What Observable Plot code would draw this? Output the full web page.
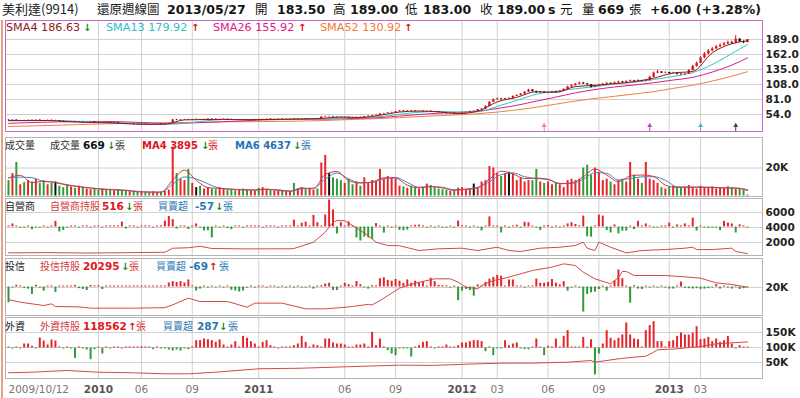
<!DOCTYPE html>
<html><head><meta charset="utf-8">
<script src="https://cdn.jsdelivr.net/npm/d3@7"></script>
<script src="https://cdn.jsdelivr.net/npm/@observablehq/plot@0.6"></script>
<style>
html,body{margin:0;padding:0;background:#fff}
#root{position:relative;width:800px;height:398px;overflow:hidden;font-family:"DejaVu Sans",sans-serif}
.lay{position:absolute;left:0}
.tx{position:absolute;white-space:nowrap;line-height:1;transform:translateY(-50%)}
</style></head><body><div id="root"></div>
<script>
// ---------- data (weekly, 2009/10/12 .. 2013/05/27) ----------
const closeBefore = 44.0;
const close = [43.0,43.8,42.6,43.2,42.8,43.6,43.0,43.8,43.0,42.6,43.4,43.0,43.0,41.8,
40.5,39.8,40.2,39.6,40.0,39.2,39.8,40.4,39.6,39.0,39.4,38.8,38.2,38.6,37.8,
37.0,36.4,36.8,36.2,35.8,36.4,36.0,35.6,36.2,36.6,36.0,36.8,37.6,
44.2,43.6,44.4,45.0,44.2,45.0,45.0,
44.6,45.2,45.8,45.4,44.8,45.0,45.6,45.2,44.6,44.2,44.8,44.4,44.0,44.6,45.0,44.8,45.2,45.6,45.0,45.4,45.8,45.2,45.6,46.0,45.4,45.8,46.2,45.6,46.0,46.4,46.0,
49.5,50.2,50.2,49.6,49.2,48.8,49.0,48.6,48.4,48.8,48.2,50.0,51.0,52.0,52.6,55.0,55.8,56.8,57.6,59.0,
60.4,59.8,60.6,60.2,59.6,60.0,59.4,59.8,59.2,58.6,57.4,56.2,55.6,56.0,55.2,55.8,56.6,
57.8,59.4,59.4,62.4,64.0,
68.5,76.0,80.5,82.0,81.2,82.6,
82.6,86.5,88.0,90.5,94.0,98.0,95.5,93.0,94.2,92.8,
93.6,94.8,93.8,95.6,
99.0,103.5,106.0,108.5,110.5,109.2,
107.8,103.0,105.5,
107.0,108.5,110.0,109.0,111.0,112.5,111.5,
113.0,114.5,113.2,114.8,113.6,115.0,
121.0,128.5,130.5,128.8,129.6,127.8,128.4,
126.5,125.8,126.8,
133.0,140.5,146.0,
156.0,163.0,168.5,172.0,
176.0,178.5,181.0,183.5,182.5,
189.5,185.0,183.0,189.0];
const open = [43.6,43.0,43.8,42.6,43.2,42.8,43.6,43.0,43.8,43.0,42.6,43.4,43.0,43.0,
41.8,40.5,39.8,40.2,39.6,40.0,39.2,39.8,40.4,39.6,39.0,39.4,38.8,38.2,38.6,
37.8,37.0,36.4,36.8,36.2,35.8,36.4,36.0,35.6,36.2,36.6,36.0,36.8,
38.0,44.2,43.6,44.4,45.0,44.2,45.2,
45.0,44.6,45.2,45.8,45.4,44.8,45.0,45.6,45.2,44.6,44.2,44.8,44.4,44.0,44.6,45.0,44.8,45.2,45.6,45.0,45.4,45.8,45.2,45.6,46.0,45.4,45.8,46.2,45.6,46.0,46.4,
46.2,49.5,50.4,50.2,49.6,49.2,48.8,49.0,48.6,48.4,48.8,48.4,50.0,51.0,52.0,52.6,55.0,55.8,56.8,57.6,
59.0,60.4,59.8,60.6,60.2,59.6,60.0,59.4,59.8,59.2,58.6,57.4,56.2,55.6,56.0,55.2,55.8,
56.6,57.8,59.6,59.4,62.4,
64.0,68.5,76.0,80.5,82.0,81.2,
82.8,82.6,86.5,88.0,90.5,94.0,98.0,95.5,93.0,94.2,
92.8,93.6,94.8,93.8,
95.6,99.0,103.5,106.0,108.5,110.5,
109.2,107.8,103.0,
105.5,107.0,108.5,110.0,109.0,111.0,112.5,
111.5,113.0,114.5,113.2,114.8,113.6,
115.0,121.0,128.5,130.5,128.8,129.6,127.8,
128.4,126.5,125.8,
126.8,133.0,140.5,
146.0,156.0,163.0,168.5,
172.0,176.0,178.5,181.0,183.5,
182.5,189.5,185.0,183.5];
const high = [44.2,44.2,44.2,43.6,43.6,44.0,43.8,44.2,44.0,43.4,43.8,43.8,43.6,43.2,
42.0,40.9,40.6,40.6,40.4,40.4,40.2,40.8,40.8,39.9,39.8,39.7,39.1,38.9,38.9,
37.9,37.3,37.1,37.0,36.5,36.7,36.7,36.3,36.5,36.9,36.9,37.1,37.9,
45.0,44.8,44.8,45.4,45.3,45.4,45.6,
45.3,45.5,46.2,46.1,45.8,45.4,45.9,45.9,45.5,44.9,45.1,45.1,44.7,44.9,45.3,45.3,45.5,45.9,45.9,45.7,46.1,46.1,45.9,46.3,46.3,46.1,46.5,46.5,46.3,46.7,46.7,
50.2,51.0,51.0,50.6,49.9,49.6,49.5,49.3,48.9,49.2,49.2,50.4,51.5,52.5,53.1,55.6,56.4,57.4,58.2,59.6,
61.0,60.8,61.0,61.0,60.6,60.4,60.4,60.2,60.2,59.6,59.0,57.8,56.6,56.4,56.2,56.2,57.0,
58.4,60.2,60.4,63.0,64.8,
70.0,77.5,82.0,83.5,83.0,83.5,
84.0,87.5,89.5,92.0,95.5,99.5,98.5,96.0,95.5,95.0,
95.0,96.0,95.5,97.0,
100.5,105.0,107.5,110.0,112.5,111.5,
110.0,108.0,107.0,
108.5,110.0,111.5,111.0,112.5,114.0,113.5,
114.5,116.0,115.5,116.5,115.5,116.5,
123.0,130.5,133.5,131.0,131.0,130.0,130.0,
129.0,127.5,128.0,
134.5,142.5,148.5,
158.5,165.5,171.0,174.5,
178.5,181.0,184.0,186.5,186.0,
196.0,191.0,186.5,189.0];
const low = [42.6,42.6,42.2,42.2,42.3,42.4,42.6,42.6,42.6,42.1,42.3,42.6,42.6,41.4,
40.0,39.3,39.4,39.2,39.3,38.8,38.9,39.5,39.2,38.6,38.8,38.4,37.8,37.9,37.3,
36.6,36.0,36.0,35.8,35.4,35.5,35.6,35.2,35.3,35.9,35.6,35.7,36.4,
37.6,43.0,43.2,44.0,43.8,43.8,44.6,
44.2,44.2,44.9,44.9,44.4,44.4,44.6,44.8,44.2,43.8,43.8,44.0,43.6,43.6,44.2,44.4,44.4,44.8,44.6,44.6,45.0,44.8,44.8,45.2,45.0,45.0,45.4,45.2,45.2,45.6,45.6,
45.8,49.0,49.6,49.2,48.8,48.4,48.4,48.2,48.0,48.0,47.8,47.9,49.6,50.6,51.6,52.2,54.6,55.4,56.4,57.2,
58.6,59.2,59.4,59.8,59.0,59.2,58.9,59.0,58.8,58.2,57.0,55.8,55.0,55.2,54.8,54.8,55.4,
56.2,57.4,58.8,59.0,61.8,
63.5,68.0,75.5,80.0,80.0,80.5,
81.5,82.0,86.0,87.5,90.0,93.5,94.5,92.0,92.0,92.0,
92.0,93.0,93.0,93.0,
95.0,98.5,102.5,105.0,107.5,108.0,
106.5,101.5,102.5,
104.5,106.0,107.5,108.0,108.5,110.0,110.5,
111.0,112.5,112.5,113.0,112.5,113.0,
114.0,120.0,127.5,127.5,127.5,126.5,127.0,
125.0,124.5,125.0,
126.0,132.5,139.0,
145.5,154.0,161.0,166.5,
170.5,174.5,177.0,179.5,180.0,
181.0,183.5,181.5,183.0];

// moving averages of price, read every 5 weeks
const smaIdx = [0,5,10,15,20,25,30,35,40,45,50,55,60,65,70,75,80,85,90,95,100,105,110,115,120,125,130,135,140,145,150,155,160,165,170,175,180,185,189];
const sma4 = [43.4,43.05,43.2,41.3,39.65,39.2,37.45,36.1,36.4,44.3,44.95,45.2,44.5,44.9,45.35,45.85,46.98,49.45,48.5,52.65,58.45,60.1,58.75,55.65,59.75,76.75,84.9,95.1,93.75,104.25,106.4,109.6,113.05,119.5,128.65,131.5,164.9,181.4,186.63];
const sma13 = [42.5,43.0,43.3,42.6,41.2,39.85,39.0,37.4,36.4,38.0,42.2,44.9,45.0,44.8,45.2,45.6,46.1,47.6,48.7,50.1,54.5,58.0,59.7,58.5,59.0,68.5,79.5,90.5,96.0,100.3,104.2,108.8,112.0,117.0,122.5,129.5,144.0,163.8,179.92];
const sma26 = [38.0,39.3,40.3,41.0,41.6,41.5,40.6,39.3,38.1,38.5,39.5,40.9,42.5,44.2,45.0,45.2,45.5,46.4,47.2,48.5,51.2,54.0,56.2,57.8,60.1,64.8,70.6,78.0,85.3,92.9,98.9,103.5,107.1,111.2,116.0,120.8,130.4,142.9,155.92];
const sma52 = [32.5,33.3,34.2,35.2,36.2,37.2,38.0,38.6,39.0,39.6,40.3,40.9,41.0,41.25,41.6,42.2,43.05,44.3,45.55,46.7,48.3,50.3,51.9,53.4,55.4,58.3,62.3,67.0,72.6,78.2,82.9,86.8,90.9,95.2,101.0,106.7,114.2,122.9,130.92];

// volume (張)
const vol = [11000,16000,24000,8000,9500,11000,10000,12000,9000,11000,
8000,9000,10000,7000,6000,8000,6500,5500,7000,6000,
5000,4500,5500,4000,5000,4200,4800,3800,4500,4000,
3500,3000,2600,2800,3200,2500,2700,3000,2400,2800,
3300,4200,35000,16000,12000,11000,19000,9000,6000,7000,
5000,6000,5000,4500,6000,5000,4000,4500,3800,4200,
5000,4600,4000,3500,5500,6000,4800,4000,3600,3200,
3800,3000,3400,9000,5000,6000,4500,5500,4000,5000,
23600,29000,16000,13000,12000,11000,9000,12000,8000,10000,
7000,13000,9000,11000,10000,19000,12000,14000,13000,12000,
7000,6500,5500,7000,6000,5000,6000,8500,7500,6000,
5000,4500,4000,3500,4000,5500,6000,4500,5000,8500,
6000,10000,11000,21000,20000,16000,14000,16000,17000,16000,
11000,13000,10000,11000,11000,19000,10000,9000,10000,8000,
9000,8000,6000,11000,12000,11000,12000,20000,22000,15000,
20000,17000,11000,12000,10000,8000,11000,12000,10000,24000,
15000,12000,9000,24000,12000,11000,9000,6000,5000,6500,
7000,6000,5500,6000,7500,6000,5000,7000,6000,5500,
6500,5000,6000,5500,6500,5800,5000,5500,4400,669];
// volume moving averages, read every 3 weeks (weeks 0,3,...,189)
const volMA4 = [13000,14750,9600,10500,9500,7750,6750,5600,4750,4450,3950,2980,2800,2720,11300,18500,11250,6000,5400,4900,4400,4300,4950,3900,3350,5850,5000,15400,17500,11000,9250,10000,13000,12750,7750,5900,6750,5750,4000,5000,6000,12000,17750,15750,12500,12750,12000,8750,9250,13750,19250,15000,10250,14250,15000,14000,7750,6100,6250,6400,6250,5750,5700,3895];
const volMA6 = [13000,13500,13100,10400,9800,8000,6700,5750,5000,4550,4130,3400,2800,2770,8450,13600,12200,8700,5600,4800,4400,4200,4700,4500,3500,5000,5700,11900,16400,12200,9500,9700,12300,13300,9700,6200,6700,6250,4500,4600,5900,10250,15300,16500,13800,12500,11700,9000,9000,12000,16700,16200,11500,12500,13700,13800,11200,6600,6400,6200,6000,5750,5600,4637];

// 自營商 net buy/sell (張) and holdings
const dealerNet = [60,180,60,-60,-60,60,-160,-60,-60,60,-60,60,330,-290,-200,-60,60,60,-60,60,
60,-60,60,60,-60,60,60,60,60,290,-120,60,60,-60,60,60,60,-60,60,60,
350,620,430,-120,60,60,-150,60,180,-60,-230,-220,-640,60,-60,60,-90,-150,60,60,
-60,60,60,60,60,-60,60,60,60,-60,60,60,60,400,60,220,280,60,680,250,
60,700,1580,1000,-410,260,60,300,60,-640,-820,-600,-640,-730,200,60,-360,60,-60,60,
-200,-220,-180,60,100,110,60,-60,60,-60,60,-60,-60,60,-60,350,60,60,-60,60,
-60,-230,60,590,60,60,-350,60,-60,60,100,-60,280,250,60,-60,-200,60,80,-60,
60,-60,60,180,250,150,60,640,-580,-600,60,700,640,-210,-350,120,-410,-250,-240,60,
-150,330,60,180,60,-60,-60,60,60,230,-60,120,60,180,60,520,-240,60,-60,-80,
-60,-60,-210,330,230,180,-350,130,60,-57];
const dealerHoldIdx = [0,10,20,30,40,42,46,49,52,60,72,73,78,81,83,84,86,88,92,94,97,100,105,110,116,120,125,128,131,136,141,145,147,148,150,151,154,158,162,168,173,175,176,180,185,186,189];
const dealerHold = [620,650,600,640,700,1240,1300,1500,1200,1150,1160,1200,2040,3370,4700,4930,4900,4270,2930,2040,1600,1570,930,1160,1240,930,1370,930,800,1240,1370,1600,2040,1240,930,2040,1370,620,930,1060,1240,1370,1060,1060,1240,800,516];

// 投信
const trustNet = [-1900,-120,200,120,-150,-250,-900,200,-130,-500,120,120,-650,120,120,120,120,180,-200,-300,
-420,180,120,150,-300,120,120,120,120,120,120,120,120,120,120,120,120,120,120,120,
120,480,650,550,650,480,850,120,-480,-250,120,-120,120,-120,120,-120,120,-400,-480,-600,
-480,-120,120,-120,120,120,-120,120,120,-120,120,-120,120,-120,120,-120,-120,120,-250,120,
150,350,450,-420,-420,120,450,270,120,650,270,-120,-250,150,120,1000,1100,800,700,900,
700,450,850,450,700,450,550,120,1050,650,200,150,120,-120,120,-1650,-500,-300,-420,-1100,
250,120,550,950,1150,1400,1300,120,850,850,120,120,-120,120,120,950,450,450,550,900,
450,250,650,-500,-120,120,-120,-3000,-900,-700,-620,-300,120,-500,120,750,2050,1000,120,-1950,
150,-250,-300,120,-120,120,-120,120,-120,-250,-250,120,600,-150,-200,-250,-200,-300,-250,-200,
-120,280,-250,120,-120,-250,120,-300,-200,-69];
const trustHoldIdx = [0,3,9,11,12,18,21,32,40,42,46,49,56,61,63,70,76,81,85,88,92,93,95,100,104,109,113,115,117,120,121,124,127,134,139,142,145,147,150,154,156,157,158,160,168,174,177,181,185,189];
const trustHold = [10400,8270,5600,6930,4800,4500,3470,3470,3900,6130,11470,8800,8800,4270,7470,7470,2930,2930,3900,4800,6500,6000,9500,19500,23500,26930,26930,24270,20270,18930,21600,25600,27470,33600,36270,38930,37600,32270,26930,22930,28000,32800,32800,29600,29600,28270,27470,23730,22400,20295];

// 外資
const foreignNet = [300,-300,300,-300,1200,1200,500,-300,3000,2100,900,2400,2100,300,-300,300,-300,-3100,300,-300,
-600,-3500,-500,300,-1800,300,-300,300,300,-300,300,300,300,300,400,300,300,-500,300,-300,
-300,-600,-900,-600,-900,-300,-500,300,2200,2200,2700,2500,2200,1700,2400,900,300,900,1900,300,
3500,2900,1900,1200,300,1700,2200,700,300,-300,300,300,300,700,1200,3500,1700,300,900,700,
300,2700,2700,1500,1200,1200,900,300,300,900,900,1200,300,4700,700,2700,300,-800,-1800,-2300,
-300,-300,-300,-2700,300,700,1700,1900,300,-300,300,300,900,300,300,700,1500,1500,1900,2200,
2200,1900,-1100,300,-2300,-300,-300,2200,700,1200,1500,-300,-500,-500,300,2700,300,-2300,500,300,
2700,300,3500,5200,300,300,300,3200,300,2500,-8100,-1800,1200,5200,2900,2200,2900,3900,7500,3900,
2700,2500,300,5200,6700,7900,1900,1900,300,1900,2200,3500,4500,3900,3900,4500,6400,2500,2700,3200,
1900,2700,1700,2200,3500,1200,-300,700,300,287];
const foreignHoldIdx = [0,6,15,23,32,40,46,53,64,75,83,92,100,109,117,126,134,143,149,150,156,160,163,165,166,171,174,177,181,185,189];
const foreignHold = [15670,17670,23330,17670,15670,12330,12330,17670,29000,31000,34330,38000,41000,40500,44400,47800,48000,51000,56700,51000,62300,67700,71000,84300,92300,95600,100000,103300,112300,115600,118562];

// axes
const xTickIdx = [0,23,34,47,64,86,99,116,125,138,151,169,177];
const xTickLabel = ["2009/10/12","2010","06","09","2011","06","09","2012","03","06","09","2013","03"];
const priceTicks = [54,81,108,135,162,189];
const volTicks = [20000];
const dealerTicks = [2000,4000,6000];
const trustTicks = [20000];
const foreignTicks = [50000,100000,150000];
const markerIdx = [137,164,177,186];
const markerColor = ["#e8887a","#b24cba","#3cbcc2","#6b2f55"];

// ---------- drawing ----------
const root = document.getElementById("root");
const W = 800, ML = 5, MR = 38, XD = [-0.77, 192.85];
const UP = "#e5252b", DN = "#2f9b38", FLAT = "#111";
const GRID = "#d0d0d0", FRAME = "#b4b4b4";
const weeks = d3.range(close.length);
const pts = (ix, vs) => ix.map((d, k) => ({i: d, v: vs[k]}));
const AX = {anchor: "right", tickSize: 0, tickPadding: 3, label: null, fontWeight: "bold", fontSize: 10.5, fill: "#222"};

function mk(top, bottom, yDomain, marks, o = {}) {
  const mb = o.mb ?? 1;
  const svg = Plot.plot({
    width: W, height: (bottom - top) + 1 + mb,
    marginLeft: ML, marginRight: MR, marginTop: 1, marginBottom: mb,
    x: o.xAxis ? {domain: XD, label: null} : {domain: XD, axis: null},
    y: o.yAxis ? {domain: yDomain, label: null} : {domain: yDomain, axis: null},
    style: {background: "transparent", fontFamily: "DejaVu Sans, sans-serif", fontSize: "10px", overflow: "visible"},
    marks
  });
  const d = document.createElement("div");
  d.className = "lay"; d.style.top = (top - 1) + "px";
  d.appendChild(svg); root.appendChild(d);
}
const gridIdx = xTickIdx.filter(d => d > 0);
const gx = () => Plot.gridX(gridIdx, {stroke: GRID, strokeOpacity: 1});

// price panel
const candles = weeks.map(i => ({i, o: open[i], h: high[i], l: low[i], c: close[i]}));
const cc = d => d.c >= d.o ? "#e0141b" : "#111";
const markers = markerIdx.map((d, k) => ({i: d, c: markerColor[k]}));
mk(20, 131, [23.4, 223.2], [
  Plot.gridY(priceTicks, {stroke: GRID, strokeOpacity: 1}), gx(),
  Plot.line(pts(smaIdx, sma52), {x: "i", y: "v", stroke: "#f08040", strokeWidth: 1, curve: "monotone-x"}),
  Plot.line(pts(smaIdx, sma26), {x: "i", y: "v", stroke: "#d8208c", strokeWidth: 1, curve: "monotone-x"}),
  Plot.line(pts(smaIdx, sma13), {x: "i", y: "v", stroke: "#33c6c6", strokeWidth: 1, curve: "monotone-x"}),
  Plot.ruleX(candles, {x: "i", y1: "l", y2: "h", stroke: cc, strokeWidth: 1}),
  Plot.ruleX(candles, {x: "i", y1: "o", y2: "c", stroke: cc, strokeWidth: 2.4}),
  Plot.line(pts(smaIdx, sma4), {x: "i", y: "v", stroke: "#8b1a1a", strokeWidth: 1, curve: "monotone-x"}),
  Plot.tickX(markers, {x: "i", stroke: "c", insetTop: 104}),
  Plot.dot(markers, {x: "i", frameAnchor: "bottom", dy: -6, symbol: "triangle", r: 1.8, fill: "c"}),
  Plot.frame({stroke: "#cc66cc"}),
  Plot.axisY(priceTicks, {...AX, tickFormat: d => d.toFixed(1)})
], {yAxis: true});

// volume panel
const volData = weeks.map(i => {
  const p = i ? close[i - 1] : closeBefore;
  return {i, v: vol[i], col: close[i] > p ? UP : close[i] < p ? DN : FLAT};
});
const maIdx = d3.range(0, close.length, 3);
mk(137, 196, [-357, 41786], [
  Plot.gridY(volTicks, {stroke: GRID, strokeOpacity: 1}), gx(),
  Plot.ruleX(volData, {x: "i", y1: 0, y2: "v", stroke: "col", strokeWidth: 2}),
  Plot.line(pts(maIdx, volMA6), {x: "i", y: "v", stroke: "#3a8cc8", strokeWidth: 1, curve: "monotone-x"}),
  Plot.line(pts(maIdx, volMA4), {x: "i", y: "v", stroke: "#e03434", strokeWidth: 1, curve: "monotone-x"}),
  Plot.frame({stroke: FRAME}),
  Plot.axisY(volTicks, {...AX, tickFormat: d => (d / 1000) + "K"})
], {yAxis: true});

// institutional panels: base (grid, axis), bars, holdings line
function inst(top, bottom, holdDom, ticks, fmt, net, barDom, hIdx, hVal, o = {}) {
  const base = [
    Plot.gridY(ticks, {stroke: GRID, strokeOpacity: 1}), gx(),
    Plot.frame({stroke: FRAME}),
    Plot.axisY(ticks, {...AX, tickFormat: fmt})
  ];
  if (o.xAxis) {
    const lab = new Map(xTickIdx.map((d, k) => [d, xTickLabel[k]]));
    const yr = d => /^\d{4}$/.test(lab.get(d));
    const XA = {anchor: "bottom", tickSize: 0, tickPadding: 7, label: null, fontSize: 10.5, tickFormat: d => lab.get(d)};
    base.push(Plot.axisX([0], {...XA, textAnchor: "start", fill: "#777"}));
    base.push(Plot.axisX(gridIdx.filter(yr), {...XA, fontWeight: "bold", fill: "#555"}));
    base.push(Plot.axisX(gridIdx.filter(d => !yr(d)), {...XA, fill: "#777"}));
  }
  mk(top, bottom, holdDom, base, {yAxis: true, xAxis: o.xAxis, mb: o.xAxis ? 21 : 1});
  mk(top, bottom, barDom, [
    Plot.ruleX(weeks, {x: d => d, y1: 0, y2: d => net[d], stroke: d => net[d] >= 0 ? UP : DN, strokeWidth: 2})
  ]);
  mk(top, bottom, holdDom, [
    Plot.line(pts(hIdx, hVal), {x: "i", y: "v", stroke: "#d44848", strokeWidth: 1})
  ]);
}
inst(198, 255, [267, 7867], dealerTicks, d => String(d), dealerNet, [-1670, 1670], dealerHoldIdx, dealerHold);
inst(258, 315, [-2400, 43200], trustTicks, d => (d / 1000) + "K", trustNet, [-3420, 3420], trustHoldIdx, trustHold);
inst(317, 378, [-3333, 200000], foreignTicks, d => (d / 1000) + "K", foreignNet, [-9150, 9150], foreignHoldIdx, foreignHold, {xAxis: true});

// left accent line
const acc = document.createElement("div");
acc.style.cssText = "position:absolute;left:1px;top:20px;width:2px;height:378px;background:#e9a084";
root.appendChild(acc);

// ---------- texts ----------
const CJK = "'Noto Sans CJK TC','Noto Sans CJK SC',sans-serif";
function S(t, c, sz, b, cjk) {
  return `<span style="color:${c};font-size:${sz}px;${b ? "font-weight:bold;" : ""}${cjk ? "font-family:" + CJK + ";" : ""}">${t}</span>`;
}
function put(x, y, html) {
  const d = document.createElement("div");
  d.className = "tx"; d.style.left = x + "px"; d.style.top = y + "px";
  d.innerHTML = html; root.appendChild(d);
}
const AD = S("↓", "#1a8a1a", 10, true), AU = S("↑", "#e01010", 10, true);
const K = "#151515";
// title
put(2, 9, S("美利達(9914)", "#222", 13, false, true));
put(97, 9, S("還原週線圖", K, 12.5, false, true));
put(167, 9, S("2013/05/27", K, 12.5, true));
put(255, 9, S("開", K, 12.5, false, true)); put(277, 9, S("183.50", K, 12.5, true));
put(333, 9, S("高", K, 12.5, false, true)); put(350, 9, S("189.00", K, 12.5, true));
put(405, 9, S("低", K, 12.5, false, true)); put(423, 9, S("183.00", K, 12.5, true));
put(480, 9, S("收", K, 12.5, false, true)); put(497, 9, S("189.00", K, 12.5, true));
put(548, 9, S("s", K, 12.5, true)); put(560, 9, S("元", K, 12.5, false, true));
put(582, 9, S("量", K, 12.5, false, true)); put(598, 9, S("669", K, 12.5, true));
put(629, 9, S("張", K, 12.5, false, true));
put(650, 9, S("+6.00 (+3.28%)", K, 12.5, true));
// price legend
put(6, 26, S("SMA4 186.63", "#8b1a1a", 11.2)); put(83, 26, AD);
put(106, 26, S("SMA13 179.92", "#2ec0c0", 11.2)); put(191, 26, AU);
put(213, 26, S("SMA26 155.92", "#e0168a", 11.2)); put(298, 26, AU);
put(320, 26, S("SMA52 130.92", "#f07a3a", 11.2)); put(404, 26, AU);
// volume legend
put(5, 144, S("成交量", "#333", 10, false, true));
put(50, 144, S("成交量", "#333", 10, false, true)); put(83, 144, S("669", "#111", 10.5, true));
put(107, 144, AD); put(115, 144, S("張", "#333", 10, false, true));
put(142, 144, S("MA4 3895", "#e0161b", 10, true)); put(201, 144, AD); put(208, 144, S("張", "#e0161b", 10, false, true));
put(235, 144, S("MA6 4637", "#1f74b8", 10, true)); put(293, 144, AD); put(301, 144, S("張", "#1f74b8", 10, false, true));
// institutional legends
const RED = "#d23a3a", BLU = "#2a78b2";
put(5, 205, S("自營商", "#222", 10, false, true));
put(50, 205, S("自營商持股", RED, 10, false, true)); put(102, 205, S("516", "#e01818", 10.5, true));
put(125, 205, AD); put(133, 205, S("張", RED, 10, false, true));
put(158, 205, S("買賣超", BLU, 10, false, true)); put(195, 205, S("-57", BLU, 10.5, true));
put(215, 205, AD); put(223, 205, S("張", BLU, 10, false, true));

put(5, 265, S("投信", "#222", 10, false, true));
put(40, 265, S("投信持股", RED, 10, false, true)); put(83, 265, S("20295", "#e01818", 10.5, true));
put(121, 265, AD); put(129, 265, S("張", RED, 10, false, true));
put(156, 265, S("買賣超", BLU, 10, false, true)); put(189, 265, S("-69", BLU, 10.5, true));
put(209, 265, AU); put(219, 265, S("張", BLU, 10, false, true));

put(5, 325, S("外資", "#222", 10, false, true));
put(40, 325, S("外資持股", RED, 10, false, true)); put(83, 325, S("118562", "#e01818", 10.5, true));
put(128, 325, AU); put(136, 325, S("張", RED, 10, false, true));
put(163, 325, S("買賣超", BLU, 10, false, true)); put(197, 325, S("287", BLU, 10.5, true));
put(219, 325, AD); put(228, 325, S("張", BLU, 10, false, true));
</script></body></html>
